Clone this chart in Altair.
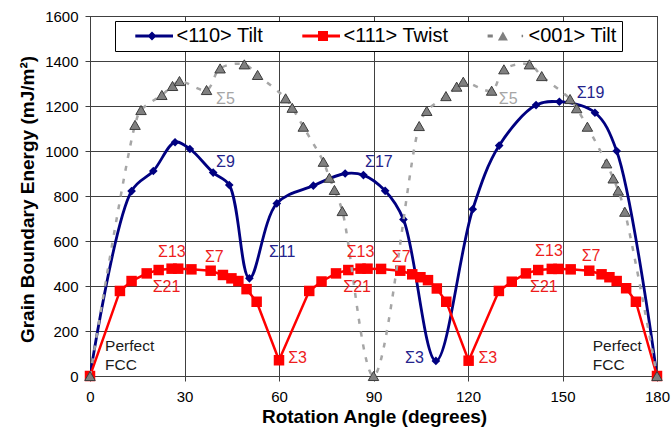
import altair as alt
import pandas as pd

FONT = "Liberation Sans"
NAVY = "#000080"
RED = "#ff0000"
GREY_FILL = "#808080"
GREY_LINE = "#a6a6a6"

# <110> tilt boundaries
tilt110_angle = [0, 13.2, 20.1, 27.0, 31.7, 39.1, 44.2, 50.6, 59.3, 70.9, 81.0,
                 86.8, 93.7, 99.5, 109.8, 121.5, 129.9, 141.6, 149.0, 160.3, 167.2, 180]
tilt110_energy = [0, 822, 911, 1039, 1009, 904, 849, 434, 767, 846, 900,
                  893, 823, 696, 67, 741, 1024, 1204, 1219, 1170, 1000, 0]

# <111> twist boundaries
twist111_angle = [0, 9.5, 13.2, 18.0, 21.8, 25.9, 28.0, 32.2, 38.3, 42.2, 44.9, 47.1, 49.7, 52.9, 60.0,
                  69.6, 73.5, 78.1, 82.0, 85.9, 88.1, 92.4, 98.5, 102.3, 104.9, 107.3, 110.1, 113.1, 120.2,
                  129.8, 133.9, 138.4, 142.3, 146.6, 148.7, 152.6, 158.5, 162.4, 164.9, 167.2, 170.2, 173.3, 180]
twist111_energy = [0, 378, 422, 456, 471, 477, 477, 474, 468, 449, 434, 422, 386, 330, 70,
                   378, 420, 456, 471, 477, 477, 476, 468, 452, 439, 426, 389, 330, 68,
                   378, 419, 456, 471, 476, 476, 474, 468, 452, 439, 422, 390, 330, 0]

# <001> tilt boundaries
tilt001_angle = [0, 14.3, 16.2, 22.8, 26.2, 28.4, 37.0, 41.3, 49.0, 53.2, 62.1, 64.2, 67.7, 74.1, 76.0, 77.6, 80.1, 90,
                 104.5, 106.9, 113.0, 116.4, 118.5, 127.5, 131.4, 139.5, 143.4, 152.4, 154.5, 157.9, 164.0, 166.1,
                 167.7, 169.8, 180]
tilt001_energy = [0, 1116, 1182, 1249, 1289, 1311, 1271, 1367, 1385, 1338, 1234, 1192, 1108, 952, 881, 827, 733, 0,
                  1111, 1178, 1244, 1286, 1308, 1268, 1363, 1385, 1333, 1231, 1190, 1108, 945, 878,
                  824, 730, 0]

series_names = ["<110> Tilt", "<111> Twist", "<001> Tilt"]

x_ticks = [0, 30, 60, 90, 120, 150, 180]
y_ticks = [0, 200, 400, 600, 800, 1000, 1200, 1400, 1600]

# Coincidence-site annotations
sigma_text = ["Σ5", "Σ5", "Σ9", "Σ17", "Σ19", "Σ11", "Σ3",
              "Σ13", "Σ13", "Σ13", "Σ21", "Σ21", "Σ21", "Σ7", "Σ7", "Σ7", "Σ3", "Σ3"]
sigma_series = ["tilt001", "tilt001", "tilt110", "tilt110", "tilt110", "tilt110", "tilt110",
                "twist111", "twist111", "twist111", "twist111", "twist111", "twist111",
                "twist111", "twist111", "twist111", "twist111", "twist111"]
sigma_angle = [40.0, 129.8, 40.0, 87.3, 154.5, 56.8, 100.0,
               21.6, 81.5, 141.3, 19.9, 80.4, 139.7, 36.5, 95.8, 156.1, 62.9, 123.3]
sigma_energy = [1230, 1230, 951, 950, 1256, 552, 80,
                552, 552, 556, 394, 394, 396, 530, 530, 533, 80, 80]

note_text = ["Perfect", "FCC", "Perfect", "FCC"]
note_angle = [4.8, 4.8, 159.6, 159.6]
note_energy = [135, 49, 135, 49]

label_colors = {"tilt110": "#24248c", "twist111": "#ee1c1c", "tilt001": "#a6a6a6"}

df110 = pd.DataFrame({"angle": tilt110_angle, "energy": tilt110_energy})
df111 = pd.DataFrame({"angle": twist111_angle, "energy": twist111_energy})
df001 = pd.DataFrame({"angle": tilt001_angle, "energy": tilt001_energy})
sig_df = pd.DataFrame({"text": sigma_text, "angle": sigma_angle, "energy": sigma_energy,
                       "colour": [label_colors[s] for s in sigma_series]})
note_df = pd.DataFrame({"text": note_text, "angle": note_angle, "energy": note_energy})

x_enc = alt.X("angle:Q", scale=alt.Scale(domain=[0, 180], nice=False, zero=False),
              axis=alt.Axis(values=x_ticks, title="Rotation Angle (degrees)", format="d",
                            titleFont=FONT, titleFontSize=19, titleFontWeight="bold", titleColor="black",
                            titleX=284, titleY=40, titleBaseline="middle", titleAlign="center",
                            labelFont=FONT, labelFontSize=15, labelColor="black", labelPadding=8,
                            labelFlush=False, labelOverlap=False, tickSize=5, tickColor="#404040",
                            domain=False, grid=True, gridColor="#404040", gridWidth=1))
y_enc = alt.Y("energy:Q", scale=alt.Scale(domain=[0, 1600], nice=False),
              axis=alt.Axis(values=y_ticks, title="Grain Boundary Energy (mJ/m²)", format="d",
                            titleFont=FONT, titleFontSize=19, titleFontWeight="bold", titleColor="black",
                            titleAngle=270, titleX=-63, titleY=183, titleAlign="center",
                            titleBaseline="middle",
                            labelFont=FONT, labelFontSize=15, labelColor="black", labelPadding=7,
                            labelFlush=False, labelOverlap=False, tickSize=5, tickColor="#404040",
                            domain=False, grid=True, gridColor="#404040", gridWidth=1))

line110 = alt.Chart(df110).mark_line(color=NAVY, strokeWidth=2.8, interpolate="catmull-rom",
                                     clip=True).encode(x=x_enc, y=y_enc)
pts110 = alt.Chart(df110).mark_point(shape="diamond", filled=True, size=75, color=NAVY, opacity=1).encode(
    x="angle:Q", y="energy:Q")

line111 = alt.Chart(df111).mark_line(color=RED, strokeWidth=2.5, clip=True).encode(x="angle:Q", y="energy:Q")
pts111 = alt.Chart(df111).mark_point(shape="square", filled=True, size=110, color=RED, opacity=1).encode(
    x="angle:Q", y="energy:Q")

line001 = alt.Chart(df001).mark_line(color=GREY_LINE, strokeWidth=2.5, strokeDash=[5, 8],
                                     interpolate="catmull-rom", clip=True).encode(x="angle:Q", y="energy:Q")
pts001 = alt.Chart(df001).mark_point(shape="triangle-up", filled=True, size=110, fill=GREY_FILL,
                                     stroke="#3c3c3c", strokeWidth=1, opacity=1).encode(
    x="angle:Q", y="energy:Q")

sigmas = alt.Chart(sig_df).mark_text(align="left", baseline="middle", font=FONT, fontSize=16).encode(
    x="angle:Q", y="energy:Q", text="text:N", color=alt.Color("colour:N", scale=None))
notes = alt.Chart(note_df).mark_text(align="left", baseline="middle", font=FONT, fontSize=15.5,
                                     color="#1a1a1a").encode(x="angle:Q", y="energy:Q", text="text:N")

# Legend symbols: a line segment with the series marker, drawn as custom paths.
# The symbol box is one label-height square; the path reaches to its right and
# the label is pushed past it with labelOffset.
LEG_FONT = 20
R = LEG_FONT / 2.0       # half of the nominal symbol box, in px
SYM_W = 53.0             # full drawn width of a symbol, in px
LEAD = 15.3              # blank space before the line segment, in px


def sym_path(polys):
    cmds = ["M-1,0L-1,0"]
    for poly in polys:
        pts = ["%.4f,%.4f" % ((x - R) / R, y / R) for x, y in poly]
        cmds.append("M" + "L".join(pts) + "Z")
    return "".join(cmds)


def bar(x0, x1, h):
    return [(x0, -h), (x1, -h), (x1, h), (x0, h)]


def diamond(cx, s):
    return [(cx - s, 0), (cx, -s), (cx + s, 0), (cx, s)]


def square(cx, s):
    return [(cx - s, -s), (cx + s, -s), (cx + s, s), (cx - s, s)]


def triangle(cx, w, h):
    return [(cx, -h / 2), (cx + w / 2, h / 2), (cx - w / 2, h / 2)]


legend_shapes = [
    sym_path([bar(LEAD, SYM_W, 1.5), diamond(LEAD + 16.7, 4.6)]),
    sym_path([bar(LEAD, SYM_W, 1.4), square(LEAD + 20.7, 5.0)]),
    sym_path([bar(LEAD + 0.3, LEAD + 5.5, 1.4), triangle(LEAD + 15.6, 10, 9), bar(LEAD + 34.3, LEAD + 35.8, 1.2)]),
]

legend_df = pd.DataFrame({"series": series_names, "angle": [0, 0, 0], "energy": [0, 0, 0]})
leg_props = dict(orient="none", legendX=25, legendY=5, direction="horizontal", columns=3, title=None,
                 labelFont=FONT, labelFontSize=LEG_FONT, labelColor="black",
                 labelOffset=SYM_W - 2 * R + 3.5,
                 labelExpr="datum.value == '<001> Tilt' ? datum.label + '\u2002 ' : datum.label",
                 symbolSize=(2 * R) ** 2, symbolStrokeWidth=0, symbolOpacity=1,
                 columnPadding=23, padding=5, strokeColor="black", fillColor="white", cornerRadius=0)
legend_layer = alt.Chart(legend_df).mark_point(filled=True, opacity=0).encode(
    x="angle:Q", y="energy:Q",
    color=alt.Color("series:N", scale=alt.Scale(domain=series_names, range=[NAVY, RED, GREY_FILL]),
                    legend=alt.Legend(**leg_props)),
    shape=alt.Shape("series:N", scale=alt.Scale(domain=series_names, range=legend_shapes),
                    legend=alt.Legend(**leg_props)),
)

chart = alt.layer(
    line110, pts110, line111, pts111, line001, pts001, sigmas, notes, legend_layer
).properties(
    width=567, height=360,
    autosize=alt.AutoSizeParams(type="none"),
    padding={"left": 90, "top": 16, "right": 14, "bottom": 53},
    background="white",
).configure_view(stroke="black", strokeWidth=1)

chart.save("out.html", embed_options={"renderer": "svg", "actions": False})
